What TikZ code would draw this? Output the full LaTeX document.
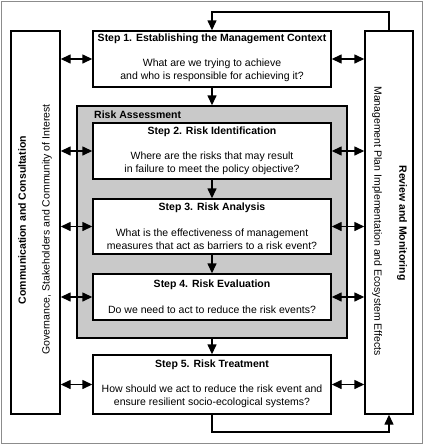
\documentclass[tikz,border=0pt]{standalone}
\usepackage{fontspec}
\setmainfont{Liberation Sans}
\usetikzlibrary{arrows.meta}
\tikzset{
  box/.style={draw=black, line width=1.4pt, fill=white, inner sep=0pt},
  grey/.style={draw=black, line width=1.4pt, fill=black!21, inner sep=0pt},
  ttl/.style={font=\bfseries\fontsize{10.5}{12.5}\selectfont, inner sep=0pt},
  bdy/.style={font=\fontsize{10.5}{13}\selectfont, align=center, inner sep=0pt},
  tip/.style={line width=1.4pt, -{Triangle[width=9pt,length=10pt]}},
  dbl/.style={line width=1.4pt, {Triangle[width=9pt,length=10pt]}-{Triangle[width=9pt,length=10pt]}},
}
\begin{document}
\begin{tikzpicture}[x=1pt,y=-1pt]
\useasboundingbox (0,0) rectangle (425,445);
\draw[black!45, line width=0.8pt] (1,1) rectangle (422,443);
% side boxes
\node[box, minimum width=49pt, minimum height=383pt] (L) at (35.5,222.5) {};
\node[box, minimum width=48pt, minimum height=383pt] (R) at (389,222.5) {};
% grey risk assessment box
\node[grey, minimum width=270pt, minimum height=232pt] (RA) at (212,222) {};
\node[font=\bfseries\fontsize{10.5}{12.5}\selectfont, anchor=west, inner sep=0pt] (RAt) at (94,115) {Risk Assessment};
% step boxes
\node[box, minimum width=238pt, minimum height=56pt] (s1) at (212,59) {};
\node[box, minimum width=238pt, minimum height=56pt] (s2) at (212,151) {};
\node[box, minimum width=238pt, minimum height=55pt] (s3) at (212,226.5) {};
\node[box, minimum width=238pt, minimum height=46pt] (s4) at (212,297) {};
\node[box, minimum width=238pt, minimum height=59pt] (s5) at (212,384.5) {};
% step texts
\node[ttl] (t1) at (212,39) {Step 1. Establishing the Management Context};
\node[bdy] (b1) at (212,70.5) {What are we trying to achieve\\and who is responsible for achieving it?};
\node[ttl] (t2) at (212,132) {Step 2. Risk Identification};
\node[bdy] (b2) at (212,163) {Where are the risks that may result\\in failure to meet the policy objective?};
\node[ttl] (t3) at (212,208) {Step 3. Risk Analysis};
\node[bdy] (b3) at (212,239.5) {What is the effectiveness of management\\measures that act as barriers to a risk event?};
\node[ttl] (t4) at (212,285) {Step 4. Risk Evaluation};
\node[bdy] (b4) at (212,310) {Do we need to act to reduce the risk events?};
\node[ttl] (t5) at (212,365) {Step 5. Risk Treatment};
\node[bdy] (b5) at (212,396.5) {How should we act to reduce the risk event and\\ensure resilient socio-ecological systems?};
% side texts
\node[ttl, rotate=90] (lc) at (22,220) {Communication and Consultation};
\node[bdy, rotate=90] (lg) at (47,229.5) {Governance, Stakeholders and Community of Interest};
\node[bdy, rotate=-90] (rm) at (377,221) {Management Plan Implementation and Ecosystem Effects};
\node[ttl, rotate=-90] (rr) at (402,223) {Review and Monitoring};
% vertical flow arrows
\draw[tip] (s1.south) -- (RA.north);
\draw[tip] (s2.south) -- (s3.north);
\draw[tip] (s3.south) -- (s4.north);
\draw[tip] (RA.south) -- (s5.north);
% side double arrows
\foreach \s in {s1,s2,s3,s4,s5}{
  \draw[dbl] (\s.west -| L.east) -- (\s.west);
  \draw[dbl] (\s.east) -- (\s.east -| R.west);
}
% feedback loops
\coordinate (ctop) at (212,12);
\coordinate (cbot) at (212,432);
\draw[tip] (R.north) |- (ctop) -- (s1.north);
\draw[tip] (s5.south) -- (cbot) -| (R.south);
\end{tikzpicture}
\end{document}
